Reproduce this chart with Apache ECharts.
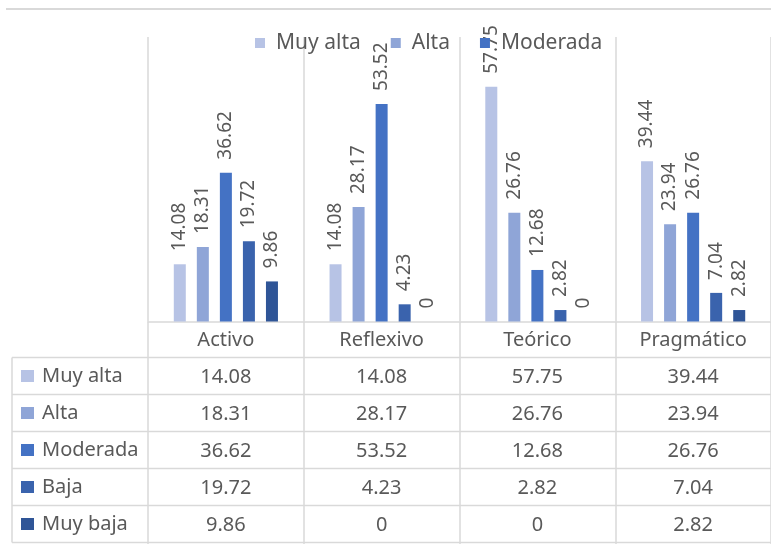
<!DOCTYPE html>
<html>
<head>
<meta charset="utf-8">
<script src="https://cdn.jsdelivr.net/npm/echarts@6/dist/echarts.min.js"></script>
<style>html,body{margin:0;padding:0;background:#fff}#c{width:771px;height:544px}</style>
</head>
<body>
<div id="c"></div>
<script>
var categories = ['Activo', 'Reflexivo', 'Teórico', 'Pragmático'];
var seriesNames = ['Muy alta', 'Alta', 'Moderada', 'Baja', 'Muy baja'];
var muyAlta = [14.08, 14.08, 57.75, 39.44];
var alta = [18.31, 28.17, 26.76, 23.94];
var moderada = [36.62, 53.52, 12.68, 26.76];
var baja = [19.72, 4.23, 2.82, 7.04];
var muyBaja = [9.86, 0, 0, 2.82];
var colors = ['#B7C3E5', '#8FA5D7', '#4472C4', '#3A63AD', '#2F5597'];

var values = [muyAlta, alta, moderada, baja, muyBaja];
var FONT = 'Noto Sans';
var TXT = '#595959';
var LINE = '#d9d9d9';

var gridLeft = 148, gridTop = 37, gridWidth = 628, axisY = 321.5;
var rowH = 37, tableTop = axisY + 36, tableLeft = 12, nRows = 5;

var chart = echarts.init(document.getElementById('c'), null, {renderer: 'canvas'});

var series = seriesNames.map(function (n, i) {
  return {
    name: n, type: 'bar', data: values[i],
    barWidth: 12, barGap: '92%',
    itemStyle: {color: colors[i]},
    label: {
      show: true, position: 'top', rotate: 90, distance: 13,
      align: 'left', verticalAlign: 'middle',
      color: TXT, fontSize: 19, fontFamily: FONT,
      formatter: function (p) { return String(p.value); }
    }
  };
});

var graphics = [];
graphics.push({type: 'line', shape: {x1: 6, y1: 9, x2: 771, y2: 9}, style: {stroke: LINE, lineWidth: 2}, silent: true});
for (var r = 0; r <= nRows; r++) {
  var y = tableTop + r * rowH;
  graphics.push({type: 'line', shape: {x1: tableLeft, y1: y, x2: 771, y2: y}, style: {stroke: LINE, lineWidth: 1.5}, silent: true});
}
graphics.push({type: 'line', shape: {x1: tableLeft, y1: tableTop, x2: tableLeft, y2: tableTop + nRows * rowH}, style: {stroke: LINE, lineWidth: 1.5}, silent: true});

var option = {
  backgroundColor: '#fff',
  animation: false,
  textStyle: {fontFamily: FONT},
  grid: {left: gridLeft, top: gridTop, width: gridWidth, height: axisY - gridTop, containLabel: false},
  legend: [
    {
      data: seriesNames.slice(0, 3),
      left: 250, top: 26, z: 10,
      itemWidth: 10, itemHeight: 10, itemGap: 30, icon: 'rect',
      textStyle: {color: TXT, fontSize: 21, fontFamily: FONT, lineHeight: 24, padding: [0, 0, 0, 6]}
    },
    {
      data: seriesNames,
      orient: 'vertical',
      left: 21, top: tableTop, padding: 0,
      itemWidth: 13, itemHeight: 12, itemGap: 0, icon: 'rect',
      textStyle: {color: TXT, fontSize: 20, fontFamily: FONT, lineHeight: rowH, padding: [0, 0, 0, 3]}
    }
  ],
  xAxis: {
    type: 'category', data: categories,
    axisLine: {show: true, lineStyle: {color: LINE, width: 1.5}},
    axisTick: {show: true, length: 544 - axisY, lineStyle: {color: LINE, width: 1.5}},
    splitLine: {show: true, lineStyle: {color: LINE, width: 1.5}},
    axisLabel: {
      interval: 0, margin: 0, color: TXT, fontSize: 20, fontFamily: FONT, lineHeight: rowH,
      formatter: function (v, idx) {
        var lines = [v];
        for (var i = 0; i < values.length; i++) lines.push(String(values[i][idx]));
        return lines.join('\n');
      }
    }
  },
  yAxis: {
    type: 'value', min: 0, max: 70, interval: 10, show: false,
    splitLine: {show: false}
  },
  series: series,
  graphic: graphics
};
chart.setOption(option);
</script>
</body>
</html>
